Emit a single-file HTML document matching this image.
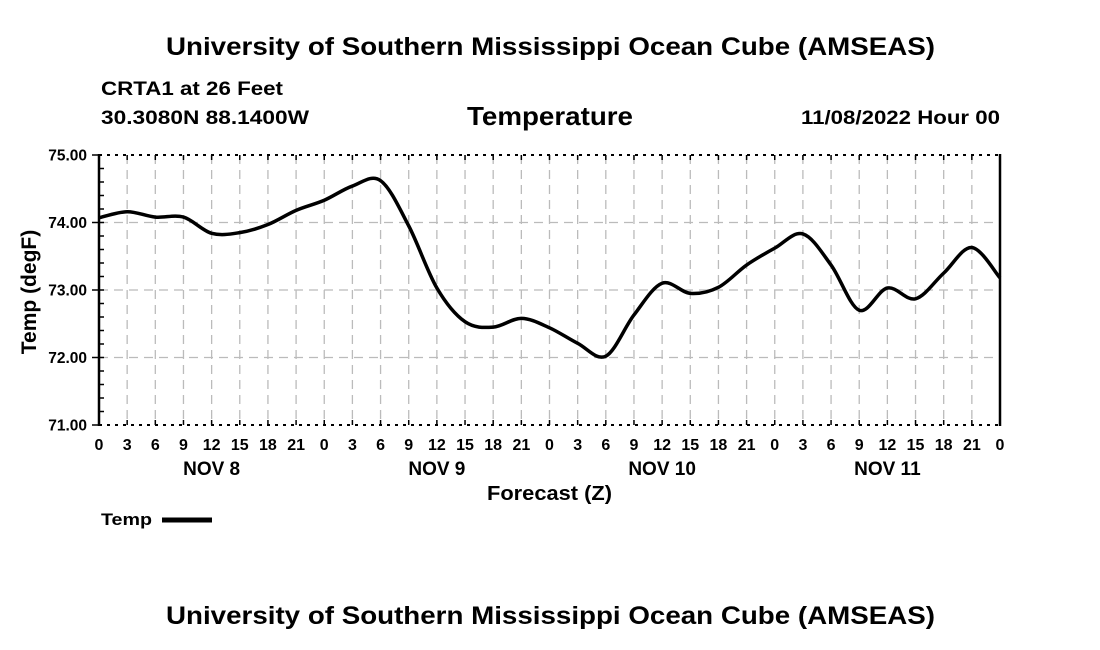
<!DOCTYPE html>
<html><head><meta charset="utf-8"><style>
body{margin:0;background:#fff}
svg{display:block;font-family:"Liberation Sans",Arial,sans-serif;font-weight:bold}
</style></head><body>
<svg id="chart" width="1100" height="650" viewBox="0 0 1100 650">
<text x="166" y="55" font-size="25" textLength="769" lengthAdjust="spacingAndGlyphs">University of Southern Mississippi Ocean Cube (AMSEAS)</text>
<text x="101" y="95" font-size="19" textLength="182" lengthAdjust="spacingAndGlyphs">CRTA1 at 26 Feet</text>
<text x="101" y="124" font-size="19" textLength="208" lengthAdjust="spacingAndGlyphs">30.3080N  88.1400W</text>
<text x="467" y="125" font-size="26" textLength="166" lengthAdjust="spacingAndGlyphs">Temperature</text>
<text x="801" y="124" font-size="19" textLength="199" lengthAdjust="spacingAndGlyphs">11/08/2022 Hour 00</text>
<g id="grid"></g>
<g id="axes"></g>
<path id="line" fill="none" stroke="#000" stroke-width="3.5"/>
<text x="487" y="500" font-size="20" textLength="125" lengthAdjust="spacingAndGlyphs">Forecast (Z)</text>
<text transform="translate(36,292) rotate(-90)" text-anchor="middle" font-size="21">Temp (degF)</text>
<g>
<text x="101" y="525" font-size="17" textLength="51" lengthAdjust="spacingAndGlyphs">Temp</text>
<line x1="162" y1="520" x2="212" y2="520" stroke="#000" stroke-width="5"/>
</g>
<text x="166" y="624" font-size="25" textLength="769" lengthAdjust="spacingAndGlyphs">University of Southern Mississippi Ocean Cube (AMSEAS)</text>
</svg>
<script>
const hours=[0,3,6,9,12,15,18,21,24,27,30,33,36,39,42,45,48,51,54,57,60,63,66,69,72,75,78,81,84,87,90,93,96];
const temps=[74.07,74.16,74.08,74.08,73.84,73.85,73.97,74.18,74.33,74.54,74.62,73.95,73.03,72.53,72.45,72.58,72.44,72.21,72.02,72.63,73.1,72.95,73.04,73.37,73.62,73.83,73.37,72.7,73.03,72.87,73.25,73.63,73.18];
const yTicks=[71,72,73,74,75];
const xTickLabels=["0","3","6","9","12","15","18","21","0","3","6","9","12","15","18","21","0","3","6","9","12","15","18","21","0","3","6","9","12","15","18","21","0"];
const dayLabels=["NOV 8","NOV 9","NOV 10","NOV 11"];
const X0=99,X1=1000,Y0=425,Y1=155;
const xs=h=>X0+(h/96)*(X1-X0);
const ys=t=>Y0-(t-71)/4*(Y0-Y1);
const NS="http://www.w3.org/2000/svg";
const grid=document.getElementById('grid'),axes=document.getElementById('axes');
function mk(tag,attrs,parent){const e=document.createElementNS(NS,tag);for(const k in attrs)e.setAttribute(k,attrs[k]);parent.appendChild(e);return e;}
xTickLabels.forEach((lab,i)=>{
 const x=xs(i*3);
 if(i>0&&i<32){const g=mk('line',{x1:x,y1:Y1,x2:x,y2:Y0,stroke:'#bbb','stroke-width':1.3,'stroke-dasharray':'9,6'},grid);
 
 }
 mk('line',{x1:x,y1:Y1,x2:x,y2:Y1+5,stroke:'#000','stroke-width':1.5},axes);
 mk('line',{x1:x,y1:Y0,x2:x,y2:Y0-5,stroke:'#000','stroke-width':1.5},axes);
 const t=mk('text',{x:x,y:450,'text-anchor':'middle','font-size':16},axes);t.textContent=lab;
 
 
});
dayLabels.forEach((d,i)=>{const t=mk('text',{x:xs(i*24+12),y:475,'text-anchor':'middle','font-size':19},axes);t.textContent=d;
 
 });
yTicks.forEach(v=>{const y=ys(v);
 if(v>71&&v<75){const g=mk('line',{x1:X0,y1:y,x2:X1,y2:y,stroke:'#bbb','stroke-width':1.3,'stroke-dasharray':'9,6'},grid);
 
 }
 mk('line',{x1:X0-7,y1:y,x2:X0,y2:y,stroke:'#000','stroke-width':1.5},axes);
 const t=mk('text',{x:87,y:y+5.5,'text-anchor':'end','font-size':15.5},axes);t.textContent=v.toFixed(2);
 
 });
for(let v=71.2;v<75;v+=0.2){const y=ys(v);mk('line',{x1:X0,y1:y,x2:X0+5,y2:y,stroke:'#000','stroke-width':1.5},axes);}
mk('line',{x1:X0,y1:Y1,x2:X1,y2:Y1,stroke:'#000','stroke-width':2,'stroke-dasharray':'3,5'},axes);
mk('line',{x1:X0,y1:Y0,x2:X1,y2:Y0,stroke:'#000','stroke-width':2,'stroke-dasharray':'3,5'},axes);
mk('line',{x1:X0,y1:Y1-1,x2:X0,y2:Y0+1,stroke:'#000','stroke-width':2.5},axes);
mk('line',{x1:X1,y1:Y1-1,x2:X1,y2:Y0+1,stroke:'#000','stroke-width':2.5},axes);
const P=hours.map((h,i)=>[xs(h),ys(temps[i])]);
let d='M'+P[0][0]+','+P[0][1];
for(let i=0;i<P.length-1;i++){const p0=P[Math.max(0,i-1)],p1=P[i],p2=P[i+1],p3=P[Math.min(P.length-1,i+2)];
 const c1=[p1[0]+(p2[0]-p0[0])/6,p1[1]+(p2[1]-p0[1])/6],c2=[p2[0]-(p3[0]-p1[0])/6,p2[1]-(p3[1]-p1[1])/6];
 d+=` C${c1[0]},${c1[1]} ${c2[0]},${c2[1]} ${p2[0]},${p2[1]}`;}
document.getElementById('line').setAttribute('d',d);
</script>
</body></html>
